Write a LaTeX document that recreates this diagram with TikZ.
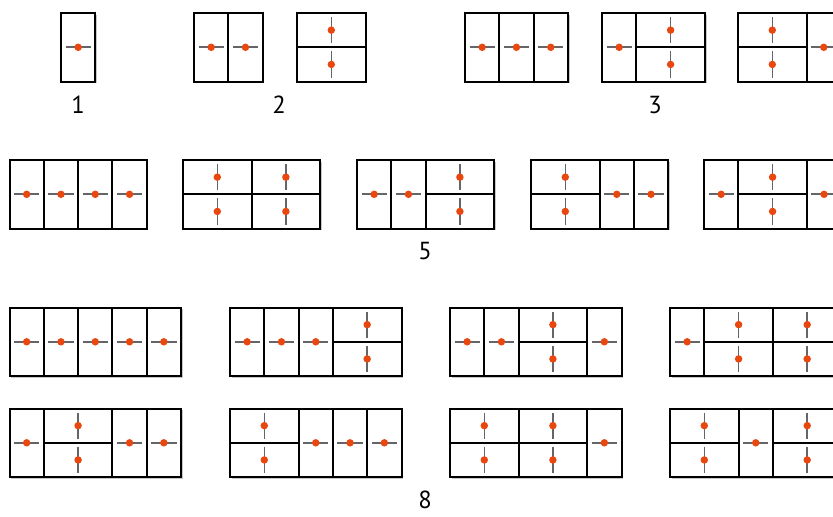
\documentclass[tikz,border=0pt]{standalone}
\usepackage{fontspec}
\setmainfont{PT Sans}
\definecolor{dotc}{RGB}{232,72,16}
\definecolor{tickc}{RGB}{100,100,105}
\definecolor{shc}{RGB}{200,200,200}
\def\s{34.3}
\tikzset{
  cell/.style={draw=black,line width=1.5pt,fill=white},
  shadowc/.style={fill=shc},
  tick/.style={draw=tickc,line width=1.2pt},
  dot/.style={fill=dotc},
  lbl/.style={font=\fontsize{18.5}{20}\selectfont,inner sep=0pt}
}
\newcommand\dV[2]{%
  \fill[shadowc] ({#1+1.6},{#2+1.6}) rectangle ++(\s,{2*\s});
  \draw[cell] (#1,#2) rectangle ++(\s,{2*\s});
  \draw[tick] ({#1+4.5},{#2+\s}) -- ({#1+\s-4.5},{#2+\s});
  \fill[dot] ({#1+\s/2},{#2+\s}) circle (2.8pt);
}
\newcommand\dH[2]{%
  \fill[shadowc] ({#1+1.6},{#2+1.6}) rectangle ++({2*\s},{2*\s});
  \draw[cell] (#1,#2) rectangle ++({2*\s},\s);
  \draw[cell] (#1,{#2+\s}) rectangle ++({2*\s},\s);
  \draw[tick] ({#1+\s},{#2+4}) -- ({#1+\s},{#2+\s-4});
  \draw[tick] ({#1+\s},{#2+\s+4}) -- ({#1+\s},{#2+2*\s-4});
  \fill[dot] ({#1+\s},{#2+\s/2}) circle (2.8pt);
  \fill[dot] ({#1+\s},{#2+1.5*\s}) circle (2.8pt);
}
\newcommand\tiling[3]{%
  \xdef\cx{#1}%
  \foreach \tk in {#3}{%
    \if\tk V\dV{\cx}{#2}\pgfmathsetmacro\nx{\cx+\s}\else\dH{\cx}{#2}\pgfmathsetmacro\nx{\cx+2*\s}\fi
    \xdef\cx{\nx}}%
}
\begin{document}
\begin{tikzpicture}[x=0.75pt,y=-0.75pt]
\fill[white] (0,0) rectangle (833,517);
\useasboundingbox (0,0) rectangle (833,517);
% n = 1, 2, 3
\tiling{61}{13}{V}
\tiling{194}{13}{V,V}
\tiling{297}{13}{H}
\tiling{465}{13}{V,V,V}
\tiling{602}{13}{V,H}
\tiling{738}{13}{H,V}
\node[lbl] (l1) at (78,105) {1};
\node[lbl] (l2) at (279,105) {2};
\node[lbl] (l3) at (655,105) {3};
% n = 4
\tiling{9.5}{160}{V,V,V,V}
\tiling{183}{160}{H,H}
\tiling{357}{160}{V,V,H}
\tiling{531}{160}{H,V,V}
\tiling{704}{160}{V,H,V}
\node[lbl] (l5) at (425,251) {5};
% n = 5
\tiling{9.5}{307.5}{V,V,V,V,V}
\tiling{230}{307.5}{V,V,V,H}
\tiling{450}{307.5}{V,V,H,V}
\tiling{670}{307.5}{V,H,H}
\tiling{9.5}{408.5}{V,H,V,V}
\tiling{230}{408.5}{H,V,V,V}
\tiling{450}{408.5}{H,H,V}
\tiling{670}{408.5}{H,V,H}
\node[lbl] (l8) at (425,500) {8};
\end{tikzpicture}
\end{document}
